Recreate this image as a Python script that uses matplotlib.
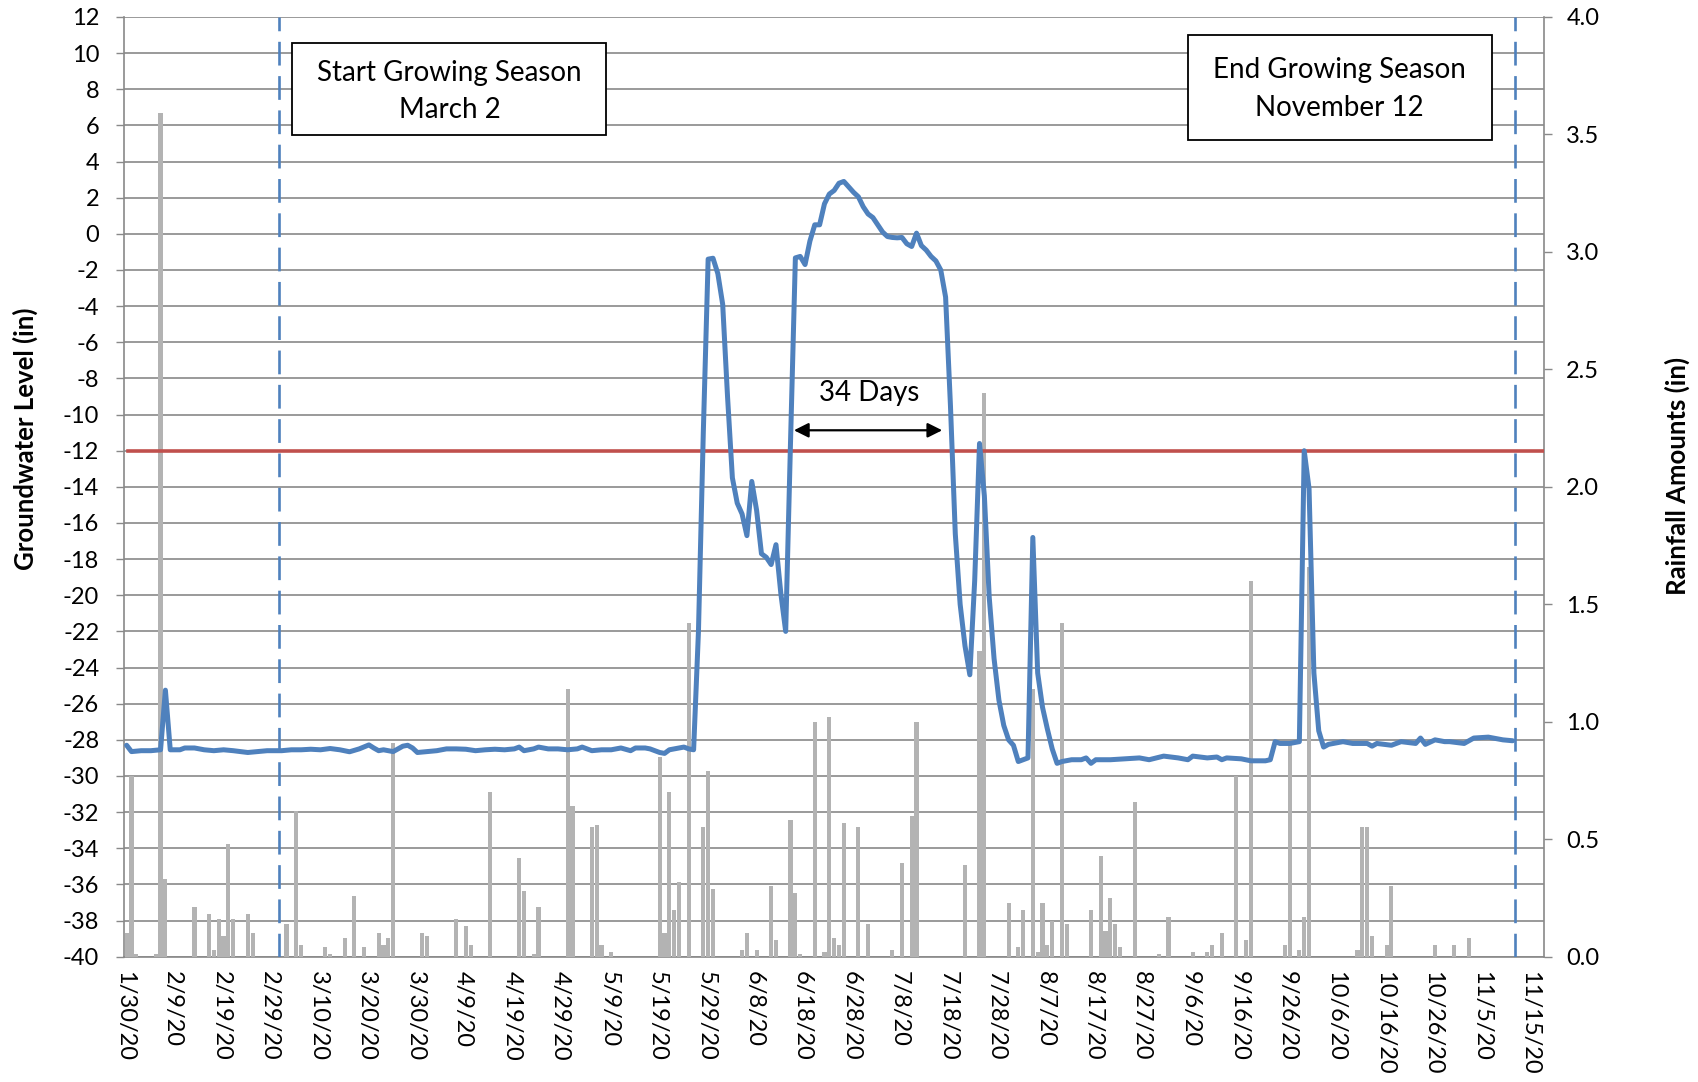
import matplotlib
matplotlib.use("Agg")
import matplotlib.pyplot as plt
from matplotlib.patches import Rectangle
import numpy as np

plt.rcParams['font.family'] = ['Lato', 'DejaVu Sans']

# ---------------- data ----------------
# x axis: days since 1/30/2020 (tick every 10 days)
tick_days = list(range(0, 291, 10))
tick_labels = ["1/30/20", "2/9/20", "2/19/20", "2/29/20", "3/10/20", "3/20/20",
               "3/30/20", "4/9/20", "4/19/20", "4/29/20", "5/9/20", "5/19/20",
               "5/29/20", "6/8/20", "6/18/20", "6/28/20", "7/8/20", "7/18/20",
               "7/28/20", "8/7/20", "8/17/20", "8/27/20", "9/6/20", "9/16/20",
               "9/26/20", "10/6/20", "10/16/20", "10/26/20", "11/5/20", "11/15/20"]

# daily rainfall (in), only days with rain
rain_day = [0, 1, 2, 6, 7, 8, 14, 17, 18, 19, 20, 21, 22, 25, 26, 33, 35, 36, 41, 42,
            45, 47, 49, 52, 53, 54, 55, 61, 62, 68, 70, 71, 75, 81, 82, 84, 85, 91, 92, 96,
            97, 98, 100, 110, 111, 112, 113, 114, 116, 119, 120, 121, 127, 128, 130, 133, 134, 137, 138, 139,
            142, 144, 145, 146, 147, 148, 151, 153, 158, 160, 162, 163, 173, 176, 177, 182, 184, 185, 187, 188,
            189, 190, 191, 193, 194, 199, 201, 202, 203, 204, 205, 208, 213, 215, 220, 223, 224, 226, 229, 231,
            232, 239, 240, 242, 243, 244, 254, 255, 256, 257, 260, 261, 270, 274, 277]
rain_in = [0.10, 0.77, 0.01, 0.01, 3.59, 0.33, 0.21, 0.18, 0.03, 0.16, 0.09, 0.48, 0.16, 0.18, 0.10, 0.14, 0.62, 0.05, 0.04, 0.01,
           0.08, 0.26, 0.04, 0.10, 0.05, 0.08, 0.91, 0.10, 0.09, 0.16, 0.13, 0.05, 0.70, 0.42, 0.28, 0.01, 0.21, 1.14, 0.64, 0.55,
           0.56, 0.05, 0.02, 0.85, 0.10, 0.70, 0.20, 0.32, 1.42, 0.55, 0.79, 0.29, 0.03, 0.10, 0.03, 0.30, 0.07, 0.58, 0.27, 0.01,
           1.00, 0.02, 1.02, 0.08, 0.05, 0.57, 0.55, 0.14, 0.03, 0.40, 0.60, 1.00, 0.39, 1.30, 2.40, 0.23, 0.04, 0.20, 1.14, 0.02,
           0.23, 0.05, 0.15, 1.42, 0.14, 0.20, 0.43, 0.11, 0.25, 0.14, 0.04, 0.66, 0.01, 0.17, 0.02, 0.02, 0.05, 0.10, 0.77, 0.07,
           1.60, 0.05, 0.90, 0.03, 0.17, 1.66, 0.03, 0.55, 0.55, 0.09, 0.05, 0.30, 0.05, 0.05, 0.08]

# groundwater level (in), days since 1/30/2020
gw_day = [0, 1, 3, 5, 7, 8, 9, 11, 12, 14,
          16, 18, 20, 22, 25, 27, 29, 32, 34, 36,
          38, 40, 42, 44, 46, 48, 50, 51, 52, 53,
          55, 57, 58, 59, 60, 62, 64, 66, 68, 70,
          72, 74, 76, 78, 80, 81, 82, 84, 85, 87,
          89, 91, 93, 94, 96, 98, 100, 102, 104, 105,
          107, 108, 110, 111, 112, 114, 115, 116, 117, 118,
          119, 120, 121, 122, 123, 124, 125, 126, 127, 128,
          129, 130, 131, 132, 133, 134, 135, 136, 137, 138,
          139, 140, 141, 142, 143, 144, 145, 146, 147, 148,
          149, 150, 151, 152, 153, 154, 155, 156, 157, 158,
          159, 160, 161, 162, 163, 164, 165, 166, 167, 168,
          169, 170, 171, 172, 173, 174, 175, 176, 177, 178,
          179, 180, 181, 182, 183, 184, 185, 186, 187, 188,
          189, 190, 191, 192, 193, 195, 197, 198, 199, 200,
          203, 206, 209, 211, 214, 217, 219, 220, 223, 225,
          226, 227, 230, 232, 235, 236, 237, 238, 240, 242,
          243, 244, 245, 246, 247, 248, 251, 253, 256, 257,
          258, 261, 263, 266, 267, 268, 270, 272, 273, 276,
          278, 281, 284, 286]
gw_level = [-28.30, -28.65, -28.60, -28.60, -28.55, -25.25, -28.55, -28.55, -28.45, -28.45,
            -28.55, -28.60, -28.55, -28.60, -28.70, -28.65, -28.60, -28.60, -28.55, -28.55,
            -28.52, -28.55, -28.48, -28.55, -28.66, -28.50, -28.28, -28.45, -28.60, -28.55,
            -28.65, -28.35, -28.30, -28.45, -28.70, -28.65, -28.60, -28.50, -28.50, -28.52,
            -28.60, -28.55, -28.52, -28.55, -28.50, -28.40, -28.60, -28.50, -28.40, -28.50,
            -28.50, -28.55, -28.50, -28.40, -28.60, -28.55, -28.55, -28.45, -28.60, -28.45,
            -28.45, -28.50, -28.70, -28.75, -28.55, -28.45, -28.40, -28.50, -28.55, -22.00,
            -11.00, -1.40, -1.35, -2.20, -3.90, -9.00, -13.50, -14.90, -15.50, -16.70,
            -13.70, -15.30, -17.70, -17.90, -18.30, -17.20, -19.90, -22.00, -11.50, -1.33,
            -1.25, -1.70, -0.40, 0.50, 0.50, 1.66, 2.20, 2.40, 2.80, 2.90,
            2.60, 2.30, 2.05, 1.50, 1.10, 0.90, 0.50, 0.10, -0.15, -0.20,
            -0.22, -0.20, -0.55, -0.70, 0.04, -0.65, -0.90, -1.25, -1.50, -2.00,
            -3.50, -9.50, -16.60, -20.50, -22.80, -24.40, -19.20, -11.60, -14.50, -20.10,
            -23.50, -25.80, -27.20, -28.00, -28.30, -29.20, -29.10, -29.00, -16.80, -24.30,
            -26.20, -27.40, -28.50, -29.30, -29.20, -29.10, -29.10, -29.00, -29.30, -29.10,
            -29.10, -29.05, -29.00, -29.10, -28.90, -29.00, -29.10, -28.90, -29.00, -28.95,
            -29.10, -29.00, -29.05, -29.16, -29.16, -29.10, -28.10, -28.20, -28.20, -28.10,
            -12.00, -14.10, -24.30, -27.50, -28.40, -28.25, -28.10, -28.20, -28.20, -28.35,
            -28.20, -28.30, -28.10, -28.20, -27.90, -28.25, -28.00, -28.10, -28.10, -28.20,
            -27.90, -27.85, -28.00, -28.05]
assert len(gw_day) == len(gw_level)
assert len(rain_day) == len(rain_in)

threshold_level = -12          # in
season_start_day = 32          # 3/2/20
season_end_day = 287           # 11/12/20
days_above_start = 138.2       # arrow span (34 days)
days_above_end = 168.8

left_ticks = list(range(-40, 13, 2))
right_ticks = [0.0, 0.5, 1.0, 1.5, 2.0, 2.5, 3.0, 3.5, 4.0]

# ---------------- styling ----------------
BLUE = '#4F81BD'
RED = '#C0504D'
BAR = '#B3B3B3'
GRID = '#898989'
FS = 17

fig = plt.figure(figsize=(16.98, 10.82), dpi=100)
rect = [0.07315, 0.1158, 0.8362, 0.8685]
ax_base = fig.add_axes(rect)
ax_rain = ax_base.twinx()
ax_gw = ax_base.twinx()

# base axis: groundwater scale, gridlines, x ticks
ax_base.set_xlim(0, 293)
ax_base.set_ylim(-40, 12)
ax_base.set_yticks(left_ticks)
ax_base.set_yticklabels([str(v) for v in left_ticks])
ax_base.set_xticks(tick_days)
ax_base.set_xticklabels(tick_labels)
ax_base.yaxis.grid(True, color=GRID, linewidth=1.2)
ax_base.set_axisbelow(True)
ax_base.tick_params(axis='y', direction='out', length=6, width=1.0, color=GRID,
                    pad=12, labelsize=FS)
ax_base.tick_params(axis='x', length=0, pad=10, labelsize=FS, labelrotation=-90)
for s in ['top', 'right']:
    ax_base.spines[s].set_visible(False)
for s in ['left', 'bottom']:
    ax_base.spines[s].set_color(GRID)
    ax_base.spines[s].set_linewidth(1.2)

# rainfall bars
ax_rain.bar(np.array(rain_day) + 0.5, rain_in, width=0.85, color=BAR, linewidth=0)
ax_rain.set_ylim(0, 4)
ax_rain.set_xlim(0, 293)
ax_rain.set_yticks(right_ticks)
ax_rain.set_yticklabels([f"{v:.1f}" for v in right_ticks])
ax_rain.tick_params(axis='y', direction='out', length=6, width=1.0, color=GRID,
                    pad=10, labelsize=FS)
for s in ['top', 'left', 'bottom']:
    ax_rain.spines[s].set_visible(False)
ax_rain.spines['right'].set_color(GRID)
ax_rain.spines['right'].set_linewidth(1.2)

# groundwater overlay
ax_gw.set_xlim(0, 293)
ax_gw.set_ylim(-40, 12)
ax_gw.set_yticks([])
for s in ax_gw.spines.values():
    s.set_visible(False)

ax_gw.axhline(threshold_level, xmin=0.003, xmax=1.0, color=RED, linewidth=2.6, zorder=2)
for d in (season_start_day, season_end_day):
    ax_gw.axvline(d, color=BLUE, linewidth=1.9, linestyle=(0, (9, 4)), zorder=2)
ax_gw.plot(np.array(gw_day) + 0.5, gw_level, color=BLUE, linewidth=3.6,
           solid_joinstyle='round', solid_capstyle='round', zorder=3)

# text boxes
ax_gw.add_patch(Rectangle((0.1182, 0.8744), 0.2211, 0.0979, transform=ax_gw.transAxes,
                          facecolor='white', edgecolor='black', linewidth=1.3, zorder=5))
ax_gw.text(0.2291, 0.9207, "Start Growing Season\nMarch 2", transform=ax_gw.transAxes,
           ha='center', va='center', fontsize=20, linespacing=1.55, zorder=6)
ax_gw.add_patch(Rectangle((0.7493, 0.8691), 0.2141, 0.1118, transform=ax_gw.transAxes,
                          facecolor='white', edgecolor='black', linewidth=1.3, zorder=5))
ax_gw.text(0.856, 0.9236, "End Growing Season\nNovember 12", transform=ax_gw.transAxes,
           ha='center', va='center', fontsize=20, linespacing=1.55, zorder=6)

# 34 days annotation
ax_gw.text(153.8, -8.83, "34 Days", ha='center', va='center', fontsize=20, zorder=6)
ax_gw.annotate('', xy=(days_above_start, -10.87), xytext=(days_above_end, -10.87),
               arrowprops=dict(arrowstyle='<|-|>', color='black', lw=1.6,
                               mutation_scale=22, shrinkA=0, shrinkB=0), zorder=6)

# axis titles
fig.text(25 / 1698, 1 - 438.6 / 1082, "Groundwater Level (in)", rotation=90,
         ha='center', va='center', fontsize=18.5, fontweight='bold')
fig.text(1677 / 1698, 1 - 476 / 1082, "Rainfall Amounts (in)", rotation=90,
         ha='center', va='center', fontsize=18.5, fontweight='bold')

fig.savefig('out.png', dpi=100)
